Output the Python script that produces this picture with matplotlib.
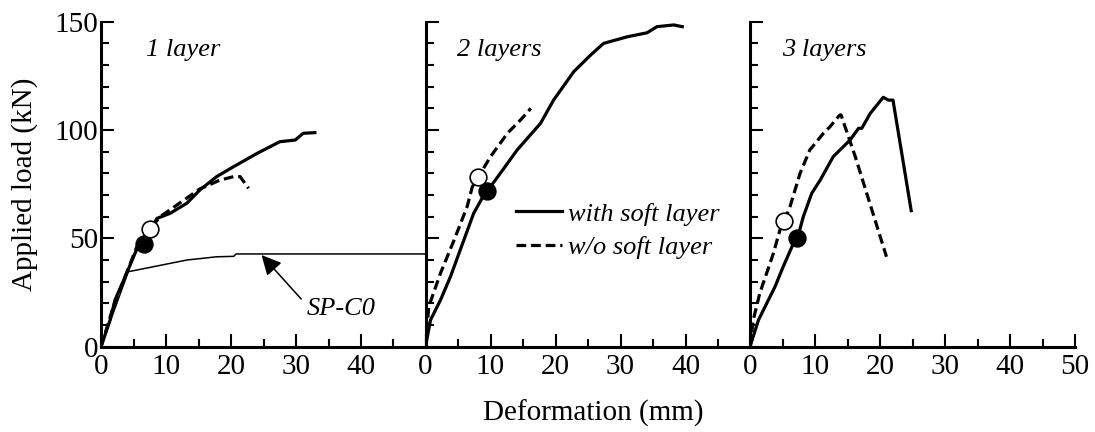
import numpy as np
import matplotlib
matplotlib.use('Agg')
import matplotlib.pyplot as plt

plt.rcParams['font.family'] = ['Liberation Serif', 'DejaVu Serif']
plt.rcParams['lines.scale_dashes'] = False

#load-deformation curves (x: mm, y: kN)
#1 layer
l1_soft_x = [0, 1.4, 2.15, 3.95, 5.5, 6.6, 8.6, 10.6, 13.2, 15.2, 17.8, 20.4, 24.0, 27.5, 29.9, 31.1, 32.9]
l1_soft_y = [0, 12.3, 21.5, 33.9, 45.0, 48.0, 59.2, 61.5, 66.2, 72.3, 78.5, 83.1, 89.2, 94.6, 95.4, 98.5, 98.8]
l1_nosoft_x = [0, 1.9, 3.4, 5.5, 7.5, 9.1, 12.2, 15.2, 18.3, 20.4, 21.4, 22.7]
l1_nosoft_y = [0, 18.5, 30.0, 46.0, 54.2, 60.0, 66.5, 72.8, 76.9, 78.5, 78.5, 73.1]
c0_x = [0, 4.2, 13.2, 17.8, 20.4, 20.8, 50]
c0_y = [0, 34.6, 40.0, 41.5, 41.7, 42.8, 42.8]

#2 layers
l2_soft_x = [0, 0.77, 2.3, 3.85, 5.9, 7.4, 8.7, 9.5, 11.5, 14.1, 17.7, 19.7, 22.8, 25.4, 27.4, 31.0, 34.1, 35.6, 38.2, 39.5]
l2_soft_y = [0, 12.3, 21.5, 32.4, 49.2, 61.5, 68.5, 71.8, 80.0, 90.8, 103.1, 113.8, 126.9, 134.6, 140.0, 143.0, 144.9, 147.7, 148.5, 147.7]
l2_nosoft_x = [0, 0.5, 2.3, 4.4, 6.4, 7.2, 8.1, 10.0, 12.6, 14.6, 16.2]
l2_nosoft_y = [0, 18.5, 33.9, 49.2, 64.6, 73.8, 78.2, 87.7, 98.5, 104.6, 110.0]

#3 layers
l3_soft_x = [0, 1.3, 3.85, 5.1, 6.9, 7.3, 8.2, 9.5, 10.8, 12.8, 15.4, 16.7, 17.2, 18.5, 20.5, 21.3, 22.0, 24.8]
l3_soft_y = [0, 12.3, 27.7, 36.9, 49.2, 50.0, 60.0, 70.8, 76.9, 87.7, 95.4, 100.8, 100.8, 107.7, 115.1, 113.8, 113.8, 62.8]
l3_nosoft_x = [0, 0.5, 1.5, 3.6, 4.6, 5.3, 6.15, 7.7, 9.2, 11.3, 12.3, 13.8, 14.0, 16.2, 21.0]
l3_nosoft_y = [0, 12.3, 24.6, 43.1, 53.8, 58.2, 64.6, 80.0, 90.8, 98.5, 101.5, 106.9, 107.0, 87.7, 41.5]

#yield points (filled = with soft layer, open = w/o soft layer)
yield_soft = [(6.6, 47.5), (9.5, 71.8), (7.3, 50.0)]
yield_nosoft = [(7.5, 54.2), (8.1, 78.2), (5.3, 58.2)]

panel_names = ['1 layer', '2 layers', '3 layers']
panel_name_x = [7.0, 4.9, 4.9]
soft_x = [l1_soft_x, l2_soft_x, l3_soft_x]
soft_y = [l1_soft_y, l2_soft_y, l3_soft_y]
nosoft_x = [l1_nosoft_x, l2_nosoft_x, l3_nosoft_x]
nosoft_y = [l1_nosoft_y, l2_nosoft_y, l3_nosoft_y]

fig = plt.figure(figsize=(10.95, 4.32), dpi=100)
W = 1095.0
H = 432.0
lefts = [101, 425.5, 750]
axes = []
for i in range(3):
	ax = fig.add_axes([lefts[i]/W, 1-346.7/H, 325/W, 325/H])
	ax.patch.set_alpha(0)
	l1, = ax.plot(soft_x[i], soft_y[i], color='k', lw=2.3, solid_joinstyle='round', label='with soft layer', zorder=3)
	l2, = ax.plot(nosoft_x[i], nosoft_y[i], color='k', lw=2.3, dashes=(7, 3.5), label='w/o soft layer', zorder=3)
	ax.plot(yield_soft[i][0], yield_soft[i][1], 'o', ms=12, mfc='k', mec='k', mew=1.2, zorder=5)
	ax.plot(yield_nosoft[i][0], yield_nosoft[i][1], 'o', ms=12, mfc='white', mec='k', mew=1.2, zorder=5)
	ax.text(panel_name_x[i], 137, panel_names[i], fontsize=19, style='italic', va='center', ha='left')
	ax.set_xlim(0, 50)
	ax.set_ylim(0, 150)
	for s in ['top', 'right']:
		ax.spines[s].set_visible(False)
	for s in ['left', 'bottom']:
		ax.spines[s].set_linewidth(2.2)
	ax.set_xticks([0, 10, 20, 30, 40, 50])
	ax.set_xticks(np.arange(0, 51, 5), minor=True)
	ax.set_yticks([0, 50, 100, 150])
	ax.set_yticks(np.arange(0, 151, 10), minor=True)
	ax.tick_params(which='both', direction='in', width=1.5, labelsize=21)
	ax.tick_params(which='major', length=9.5)
	ax.tick_params(which='minor', length=6)
	ax.tick_params(axis='x', pad=5)
	ax.tick_params(axis='y', pad=2)
	if i < 2:
		ax.set_xticklabels(['0', '10', '20', '30', '40', ''])
	if i > 0:
		ax.set_yticklabels([])
	axes.append(ax)
	if i == 1:
		ax.legend(handles=[l1, l2], loc='upper left', bbox_to_anchor=(0.277, 0.445), frameon=False,
			prop={'style': 'italic', 'size': 19}, handlelength=1.75, handletextpad=0.25,
			labelspacing=0.38, borderpad=0, borderaxespad=0)

#reference specimen without CFRP
axes[0].plot(c0_x, c0_y, color='k', lw=1.1, zorder=2, clip_on=False)
axes[0].annotate('', xy=(24.7, 42.3), xytext=(30.8, 22.0),
	arrowprops=dict(arrowstyle='-|>', color='k', lw=1.1, mutation_scale=30, shrinkA=0, shrinkB=0))
axes[0].text(31.6, 17.6, 'SP-C0', fontsize=19, style='italic', ha='left', va='center')

axes[0].set_ylabel('Applied load (kN)', fontsize=21, labelpad=12)
fig.text(593/W, 1-413/H, 'Deformation (mm)', fontsize=21, ha='center', va='center')

plt.savefig('out.png', dpi=100)
